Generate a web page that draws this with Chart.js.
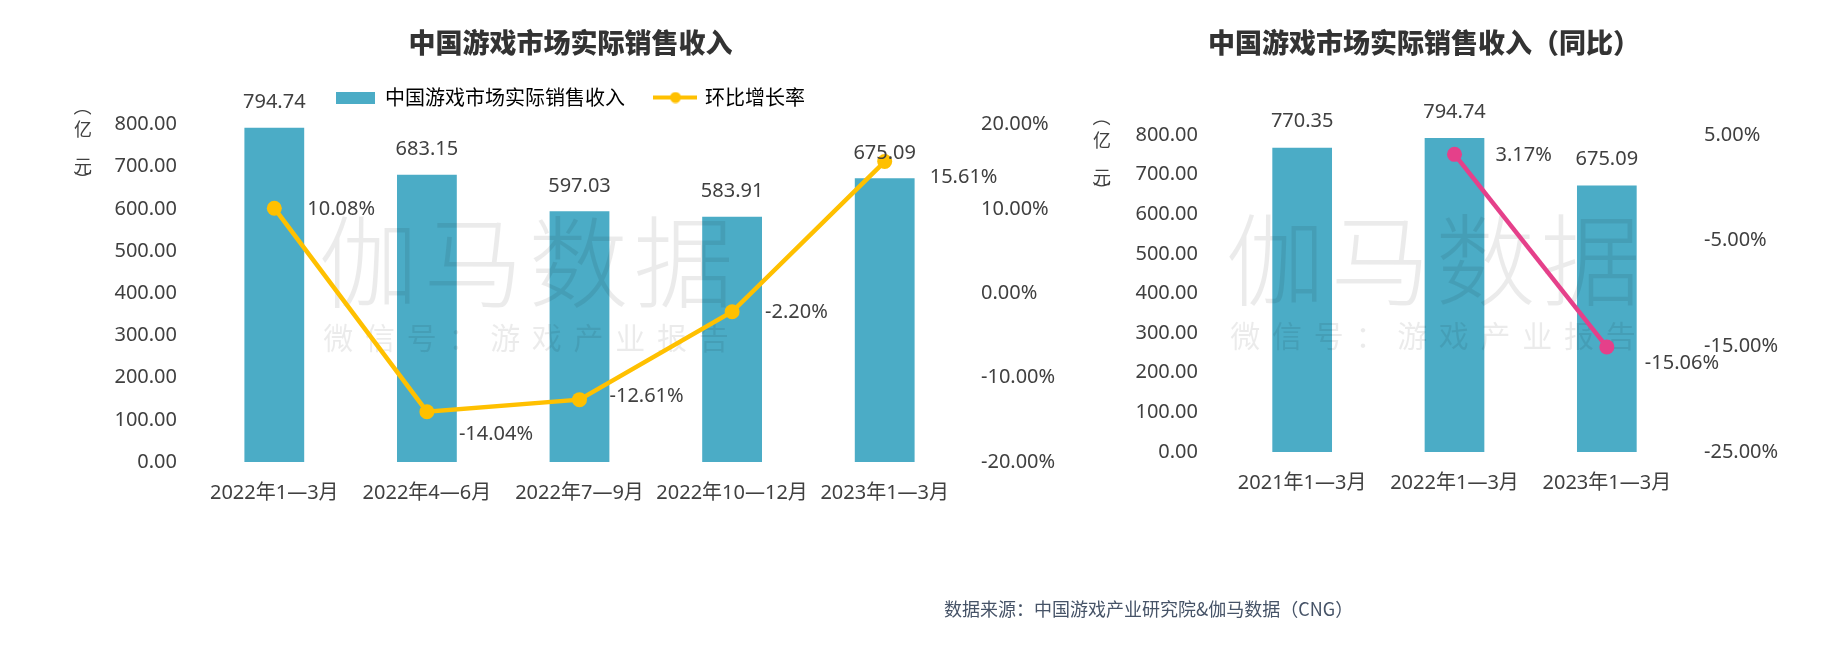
<!DOCTYPE html>
<html>
<head>
<meta charset="utf-8">
<script src="https://cdn.jsdelivr.net/npm/chart.js@4.4.1/dist/chart.umd.min.js"></script>
<style>
  html, body { margin: 0; padding: 0; background: #fff; }
  body { width: 1834px; height: 654px; position: relative; overflow: hidden; }
  #qoqChart { position: absolute; left: 0; top: 0; }
  #yoyChart { position: absolute; left: 1014px; top: 0; }
  #source {
    position: absolute; left: 944px; top: 596px;
    font-family: 'Noto Sans CJK SC', sans-serif; font-size: 18px; line-height: 24px;
    color: #465367; white-space: nowrap;
  }
</style>
</head>
<body>
<canvas id="qoqChart" width="1141" height="654"></canvas>
<canvas id="yoyChart" width="820" height="654"></canvas>
<div id="source">数据来源：中国游戏产业研究院&amp;伽马数据（CNG）</div>
<script>
// 环比 chart data
const quarters = ['2022年1—3月', '2022年4—6月', '2022年7—9月', '2022年10—12月', '2023年1—3月'];
const quarterRevenue = [794.74, 683.15, 597.03, 583.91, 675.09];
const quarterGrowth = [10.08, -14.04, -12.61, -2.20, 15.61];

// 同比 chart data
const years = ['2021年1—3月', '2022年1—3月', '2023年1—3月'];
const yearRevenue = [770.35, 794.74, 675.09];
const yearGrowth = [null, 3.17, -15.06];

const BAR_COLOR = '#4BACC6';
const YELLOW = '#FFC000';
const PINK = '#E5408A';
const TEXT = '#404040';

Chart.defaults.font.family = "'Noto Sans', 'Noto Sans CJK SC', sans-serif";
Chart.defaults.font.size = 20;
Chart.defaults.color = TEXT;

function makeSwatch(w, h, draw) {
    const c = document.createElement('canvas');
    c.width = w;
    c.height = h;
    draw(c.getContext('2d'), w, h);
    return c;
}

const barSwatch = makeSwatch(39, 12, (g, w, h) => {
    g.fillStyle = BAR_COLOR;
    g.fillRect(0, 0, w, h);
});
const lineSwatch = makeSwatch(44, 12, (g, w, h) => {
    g.strokeStyle = YELLOW;
    g.lineWidth = 4;
    g.beginPath();
    g.moveTo(0, h / 2);
    g.lineTo(w, h / 2);
    g.stroke();
    g.fillStyle = YELLOW;
    g.beginPath();
    g.arc(w / 2, h / 2, 5.5, 0, Math.PI * 2);
    g.fill();
});

// value labels, unit text and watermark
const decorPlugin = {
    id: 'decor',
    afterDatasetDraw(chart, args, opts) {
        if (args.index !== 0) return;
        const ctx = chart.ctx;
        const wm = opts.watermark;
        ctx.save();
        ctx.fillStyle = 'rgba(0, 0, 0, 0.08)';
        ctx.textAlign = 'center';
        ctx.textBaseline = 'middle';
        ctx.font = "300 100px 'Noto Sans CJK SC'";
        const big = '伽马数据';
        for (let i = 0; i < big.length; i++) {
            ctx.fillText(big[i], wm.x + (i - (big.length - 1) / 2) * 105, wm.y);
        }
        ctx.font = "30px 'Noto Sans CJK SC'";
        const small = '微信号：游戏产业报告';
        for (let i = 0; i < small.length; i++) {
            ctx.fillText(small[i], wm.x + (i - (small.length - 1) / 2) * 41.7, wm.y + 76);
        }
        ctx.restore();
    },
    afterDatasetsDraw(chart, args, opts) {
        const ctx = chart.ctx;
        ctx.save();
        ctx.fillStyle = TEXT;
        ctx.font = "20px 'Noto Sans', 'Noto Sans CJK SC'";
        ctx.textBaseline = 'middle';

        ctx.textAlign = 'center';
        const bars = chart.getDatasetMeta(0).data;
        bars.forEach((bar, i) => {
            ctx.fillText(chart.data.datasets[0].data[i].toFixed(2), bar.x, bar.y - opts.barGap);
        });

        ctx.textAlign = 'left';
        const points = chart.getDatasetMeta(1).data;
        points.forEach((pt, i) => {
            const v = chart.data.datasets[1].data[i];
            if (v == null) return;
            const off = opts.pctOffsets[i];
            ctx.fillText(v.toFixed(2) + '%', pt.x + off[0], pt.y + off[1]);
        });

        // vertical unit label (亿元), brackets turned sideways
        ctx.textAlign = 'center';
        ctx.font = "18px 'Noto Sans CJK SC'";
        const top = chart.chartArea.top;
        const unit = [['（', -18, true], ['亿', 5], ['元', 42], ['）', 55, true]];
        unit.forEach(u => {
            ctx.save();
            ctx.translate(opts.unitX, top + u[1]);
            if (u[2]) ctx.rotate(Math.PI / 2);
            ctx.fillText(u[0], 0, 0);
            ctx.restore();
        });
        ctx.restore();
    }
};

function axisBase() {
    return {
        grid: { display: false, drawTicks: false },
        border: { display: false }
    };
}

function buildChart(canvasId, cfg) {
    const barDs = {
        type: 'bar',
        label: cfg.barLabel,
        data: cfg.bars,
        backgroundColor: BAR_COLOR,
        borderColor: 'rgba(255, 255, 255, 0.35)',
        borderWidth: 1,
        barPercentage: 0.405,
        categoryPercentage: 1,
        xAxisID: 'x',
        yAxisID: 'y',
        order: 2
    };
    const lineDs = {
        type: 'line',
        label: cfg.lineLabel,
        data: cfg.line,
        borderColor: cfg.lineColor,
        backgroundColor: cfg.lineColor,
        borderWidth: 4.5,
        pointRadius: 7.5,
        pointBorderWidth: 0,
        pointBackgroundColor: cfg.lineColor,
        tension: 0,
        xAxisID: 'x',
        yAxisID: 'y1',
        order: 1
    };

    const scales = {
        x: Object.assign(axisBase(), {
            ticks: { padding: 19, maxRotation: 0, autoSkip: false, color: TEXT },
            afterFit: s => { s.height = cfg.xHeight; }
        }),
        y: Object.assign(axisBase(), {
            position: 'left',
            min: 0, max: 800,
            ticks: { stepSize: 100, padding: cfg.yPad, color: TEXT, callback: v => v.toFixed(2) },
            afterFit: s => { s.width = cfg.yWidth; }
        }),
        y1: Object.assign(axisBase(), {
            position: 'right',
            min: cfg.pctMin, max: cfg.pctMax,
            ticks: { stepSize: 10, padding: cfg.y1Pad, color: TEXT, callback: v => v.toFixed(2) + '%' },
            afterFit: s => { s.width = cfg.y1Width; }
        })
    };
    if (cfg.spacer) {
        scales.xTop = Object.assign(axisBase(), {
            type: 'category',
            position: 'top',
            ticks: { display: false },
            afterFit: s => { s.height = cfg.spacer; }
        });
    }

    return new Chart(document.getElementById(canvasId), {
        data: { labels: cfg.labels, datasets: [barDs, lineDs] },
        options: {
            responsive: false,
            animation: false,
            layout: { padding: 0 },
            plugins: {
                tooltip: { enabled: false },
                title: {
                    display: true,
                    text: cfg.title,
                    color: '#333333',
                    font: { family: "'Noto Sans CJK SC'", size: 27, weight: 900, lineHeight: 1 },
                    padding: { top: 29.5, bottom: cfg.titleBottom }
                },
                legend: {
                    display: cfg.legend,
                    labels: {
                        usePointStyle: true,
                        pointStyleWidth: 39,
                        padding: 31,
                        color: TEXT,
                        font: { size: 20, family: "'Noto Sans CJK SC'" },
                        generateLabels: chart => chart.data.datasets.map((ds, i) => ({
                            text: ds.label,
                            pointStyle: i === 0 ? barSwatch : lineSwatch,
                            fillStyle: ds.backgroundColor,
                            strokeStyle: ds.borderColor,
                            lineWidth: 0,
                            hidden: false,
                            datasetIndex: i
                        }))
                    }
                },
                decor: {
                    barGap: cfg.barGap,
                    pctOffsets: cfg.pctOffsets,
                    unitX: cfg.unitX,
                    watermark: cfg.watermark
                }
            },
            scales: scales
        },
        plugins: [decorPlugin]
    });
}

buildChart('qoqChart', {
    title: '中国游戏市场实际销售收入',
    labels: quarters,
    bars: quarterRevenue,
    line: quarterGrowth,
    barLabel: '中国游戏市场实际销售收入',
    lineLabel: '环比增长率',
    lineColor: YELLOW,
    legend: true,
    titleBottom: 0,
    spacer: 7,
    xHeight: 192,
    yWidth: 198, yPad: 21,
    y1Width: 180, y1Pad: 20,
    pctMin: -20, pctMax: 20,
    barGap: 24,
    pctOffsets: [[33, 1], [32, 23], [30, -3], [33, 0], [45, 16]],
    unitX: 83,
    watermark: { x: 526, y: 262 }
});

buildChart('yoyChart', {
    title: '中国游戏市场实际销售收入（同比）',
    labels: years,
    bars: yearRevenue,
    line: yearGrowth,
    barLabel: '中国游戏市场实际销售收入',
    lineLabel: '同比增长率',
    lineColor: PINK,
    legend: false,
    titleBottom: 78.5,
    spacer: 0,
    xHeight: 202,
    yWidth: 212, yPad: 28,
    y1Width: 151, y1Pad: 21,
    pctMin: -25, pctMax: 5,
    barGap: 25,
    pctOffsets: [[0, 0], [41, 1], [38, 16]],
    unitX: 88,
    watermark: { x: 419, y: 260 }
});
</script>
</body>
</html>
